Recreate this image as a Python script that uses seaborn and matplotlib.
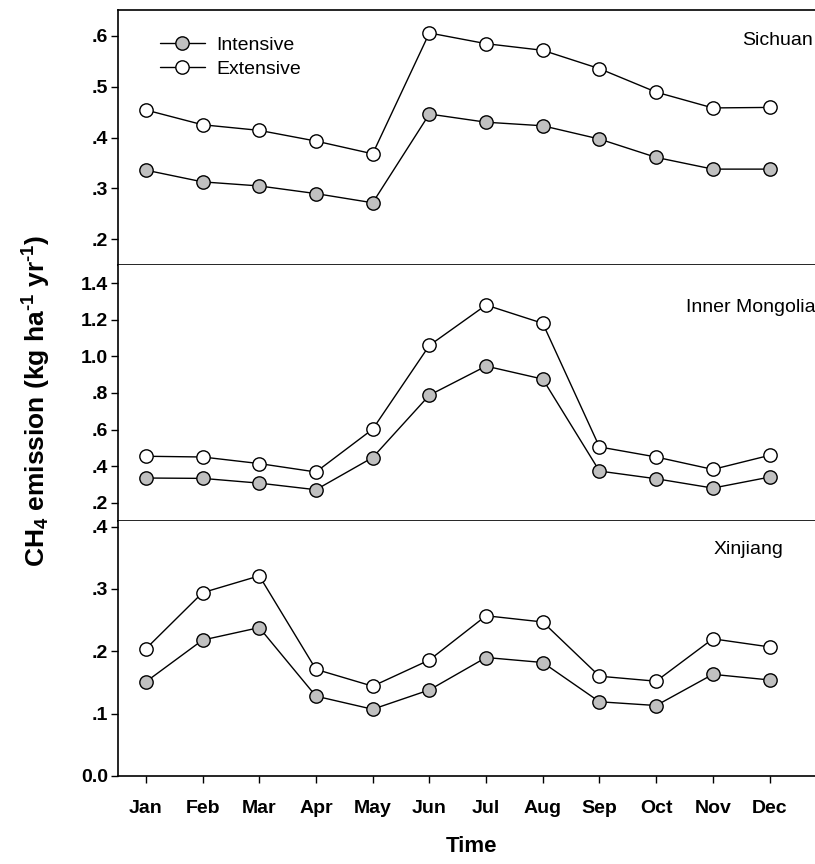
import numpy as np
import pandas as pd
import matplotlib
matplotlib.use("Agg")
import matplotlib.pyplot as plt
import matplotlib.transforms as mtransforms
import seaborn as sns

# Monthly CH4 emission, kg ha-1 yr-1
months = ["Jan", "Feb", "Mar", "Apr", "May", "Jun",
          "Jul", "Aug", "Sep", "Oct", "Nov", "Dec"]

sichuan_intensive = [0.336, 0.313, 0.305, 0.290, 0.272, 0.446,
                     0.430, 0.423, 0.397, 0.361, 0.338, 0.338]
sichuan_extensive = [0.454, 0.425, 0.414, 0.393, 0.368, 0.605,
                     0.584, 0.571, 0.535, 0.489, 0.458, 0.459]

mongolia_intensive = [0.335, 0.333, 0.307, 0.271, 0.447, 0.788,
                      0.947, 0.876, 0.373, 0.331, 0.280, 0.340]
mongolia_extensive = [0.454, 0.450, 0.414, 0.368, 0.602, 1.060,
                      1.281, 1.181, 0.505, 0.450, 0.382, 0.459]

xinjiang_intensive = [0.151, 0.218, 0.238, 0.128, 0.107, 0.138,
                      0.190, 0.182, 0.119, 0.113, 0.163, 0.154]
xinjiang_extensive = [0.204, 0.294, 0.321, 0.171, 0.144, 0.186,
                      0.257, 0.247, 0.160, 0.152, 0.220, 0.207]

regions = ["Sichuan", "Inner Mongolia", "Xinjiang"]

sichuan_ticks = [0.2, 0.3, 0.4, 0.5, 0.6]
sichuan_ticklabels = [".2", ".3", ".4", ".5", ".6"]
mongolia_ticks = [0.2, 0.4, 0.6, 0.8, 1.0, 1.2, 1.4]
mongolia_ticklabels = [".2", ".4", ".6", ".8", "1.0", "1.2", "1.4"]
xinjiang_ticks = [0.0, 0.1, 0.2, 0.3, 0.4]
xinjiang_ticklabels = ["0.0", ".1", ".2", ".3", ".4"]

sns.set_style("ticks")
plt.rcParams["font.family"] = ["Liberation Sans", "DejaVu Sans"]
plt.rcParams["mathtext.fontset"] = "custom"
plt.rcParams["mathtext.bf"] = "Liberation Sans:bold"
plt.rcParams["mathtext.rm"] = "Liberation Sans:bold"
plt.rcParams["mathtext.default"] = "bf"
for key in ["text.color", "axes.labelcolor", "axes.edgecolor",
            "xtick.color", "ytick.color"]:
    plt.rcParams[key] = "black"

fig = plt.figure(figsize=(8.15, 8.64), dpi=100)

left = 0.1442
width = 0.8696
bounds = [0.9884, 0.6933, 0.3970, 0.1019]

panels = [
    (regions[0], sichuan_intensive, sichuan_extensive, (0.15, 0.65),
     sichuan_ticks, sichuan_ticklabels, (11.52, 0.882)),
    (regions[1], mongolia_intensive, mongolia_extensive, (0.10, 1.50),
     mongolia_ticks, mongolia_ticklabels, (10.52, 0.832)),
    (regions[2], xinjiang_intensive, xinjiang_extensive, (0.0, 0.409),
     xinjiang_ticks, xinjiang_ticklabels, (11.01, 0.889)),
]

x = np.arange(1, 13)
for i, (name, inten, exten, ylim, yt, ytl, lab) in enumerate(panels):
    ax = fig.add_axes([left, bounds[i + 1], width, bounds[i] - bounds[i + 1]])
    df = pd.DataFrame({"month": x, "Intensive": inten, "Extensive": exten})
    common = dict(color="black", linewidth=1.0, marker="o", markersize=9.6,
                  markeredgecolor="black", markeredgewidth=1.0, ax=ax)
    sns.lineplot(data=df, x="month", y="Intensive", markerfacecolor="#c0c0c0",
                 label="Intensive", **common)
    sns.lineplot(data=df, x="month", y="Extensive", markerfacecolor="white",
                 label="Extensive", **common)
    ax.set_xlim(0.5, 13.0)
    ax.set_ylim(*ylim)
    ax.set_yticks(yt)
    ax.set_yticklabels(ytl, fontsize=14, fontweight="bold")
    ax.set_xlabel("")
    ax.set_ylabel("")
    ax.spines["right"].set_visible(False)
    for s in ax.spines.values():
        s.set_linewidth(1.2)
    ax.tick_params(axis="y", direction="out", length=5, width=1.0, pad=2)
    ax.tick_params(axis="x", direction="out", length=5, width=1.0)
    ax.set_xticks(x)
    trans = mtransforms.blended_transform_factory(ax.transData, ax.transAxes)
    ax.text(lab[0], lab[1], name, transform=trans,
            fontsize=14, ha="left", va="center")
    if i == 0:
        handles, labels = ax.get_legend_handles_labels()
        ax.legend(handles, labels, loc="upper left", bbox_to_anchor=(0.06, 0.896),
                  frameon=False, fontsize=14, handlelength=2.3, handletextpad=0.6,
                  borderpad=0, borderaxespad=0, labelspacing=0.3)
    else:
        ax.get_legend().remove()
        ax.spines["top"].set_visible(False)
    if i < 2:
        ax.set_xticklabels([])
    if i == 1:
        ax.tick_params(axis="x", length=0)
    if i == 2:
        ax.set_xticklabels(months, fontsize=14, fontweight="bold")
        ax.tick_params(axis="x", pad=12)
        ax.set_xlabel("Time", fontsize=16, fontweight="bold", labelpad=14)

fig.text(37 / 815, 1 - 401 / 864,
         r"CH$_{4}$ emission (kg ha$^{\text{-}1}$ yr$^{\text{-}1}$)",
         rotation=90, ha="center", va="center", fontsize=19, fontweight="bold")

fig.savefig("out.png", dpi=100)
